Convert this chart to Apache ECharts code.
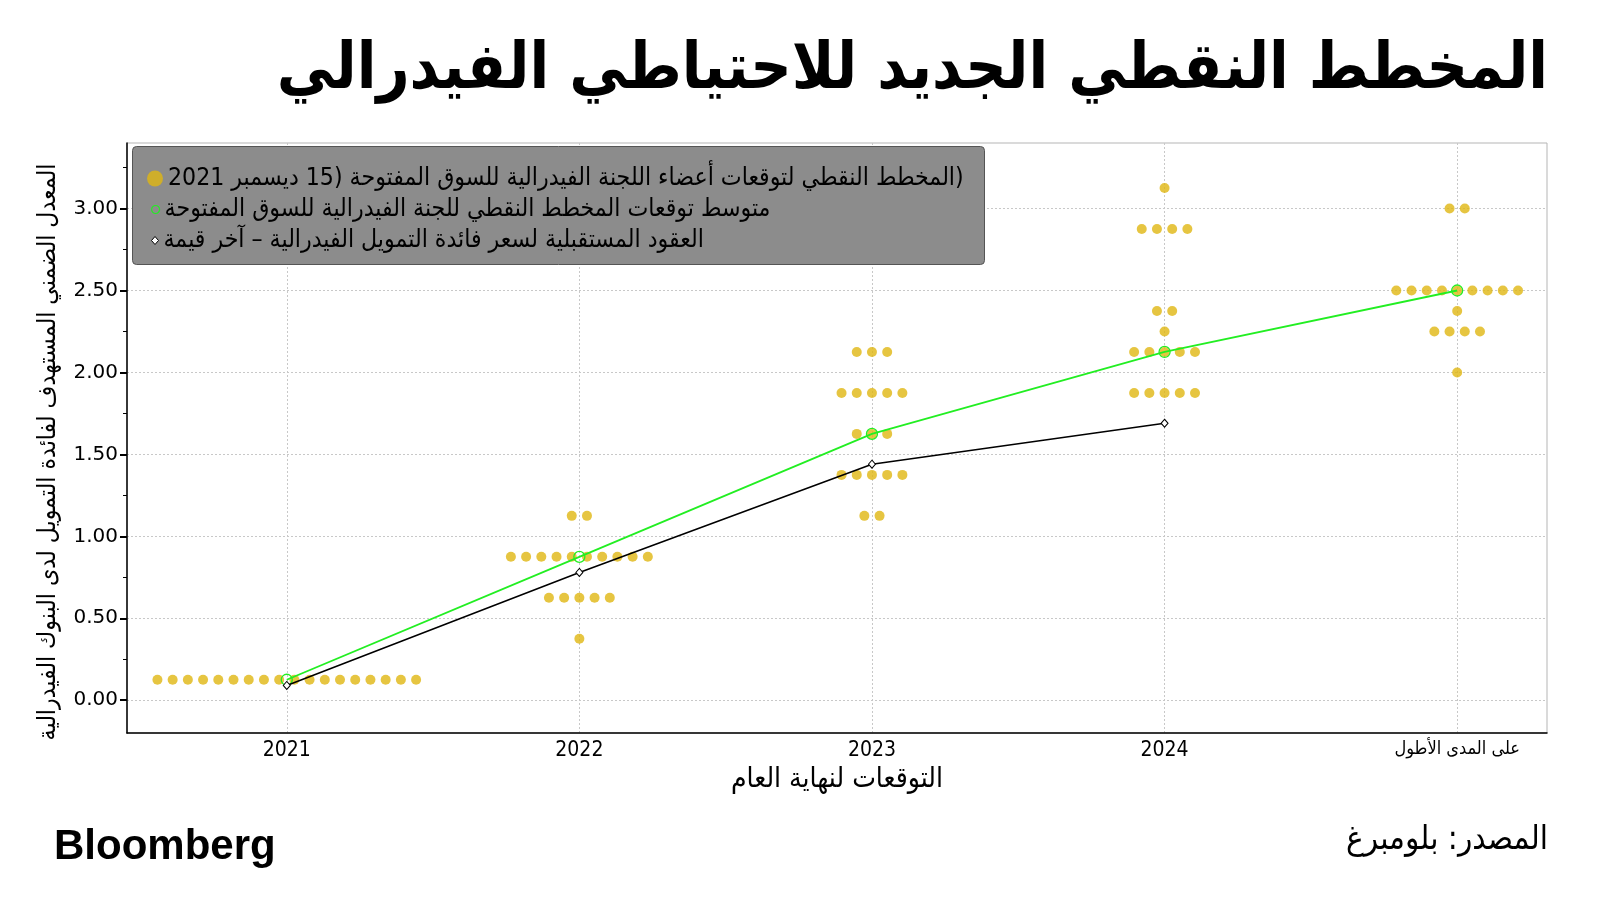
<!DOCTYPE html>
<html>
<head>
<meta charset="utf-8">
<script src="https://cdn.jsdelivr.net/npm/echarts@6/dist/echarts.min.js"></script>
<style>
html,body{margin:0;padding:0;background:#fff;}
#c{width:1600px;height:924px;}
</style>
</head>
<body>
<div id="c"></div>
<script>
// ---- data ----
const categories = ['2021', '2022', '2023', '2024', 'على المدى الأطول'];
// dot plot: [rate level, number of participants] per category
const dots2021 = [[0.125, 18]];
const dots2022 = [[1.125, 2], [0.875, 10], [0.625, 5], [0.375, 1]];
const dots2023 = [[2.125, 3], [1.875, 5], [1.625, 3], [1.375, 5], [1.125, 2]];
const dots2024 = [[3.125, 1], [2.875, 4], [2.375, 2], [2.25, 1], [2.125, 5], [1.875, 5]];
const dotsLonger = [[3.0, 2], [2.5, 9], [2.375, 1], [2.25, 4], [2.0, 1]];
const medianValues = [0.125, 0.875, 1.625, 2.125, 2.5];
const futuresValues = [0.09, 0.78, 1.44, 1.69];
const yTicks = [0, 0.5, 1, 1.5, 2, 2.5, 3];
const yMinorTicks = [0.25, 0.75, 1.25, 1.75, 2.25, 2.75, 3.25];

const seriesNames = [
  'المخطط النقطي لتوقعات أعضاء اللجنة الفيدرالية للسوق المفتوحة (15 ديسمبر 2021\u2066)\u2069',
  'متوسط توقعات المخطط النقطي للجنة الفيدرالية للسوق المفتوحة',
  'العقود المستقبلية لسعر فائدة التمويل الفيدرالية – آخر قيمة'
];
const titleText = 'المخطط النقطي الجديد للاحتياطي الفيدرالي';
const yAxisTitle = 'المعدل الضمني المستهدف لفائدة التمويل لدى البنوك الفيدرالية';
const xAxisTitle = 'التوقعات لنهاية العام';
const sourceText = 'المصدر: بلومبرغ';

// ---- build ----
const DOT_STEP = 0.052; // horizontal spread between dots (axis units)
const allDots = [dots2021, dots2022, dots2023, dots2024, dotsLonger];
const dotData = [];
allDots.forEach((levels, ci) => {
  levels.forEach(([rate, n]) => {
    for (let j = 0; j < n; j++) {
      dotData.push([ci + (j - (n - 1) / 2) * DOT_STEP, rate]);
    }
  });
});
const medianData = medianValues.map((v, i) => [i, v]);
const futuresData = futuresValues.map((v, i) => [i, v]);

const AR = "'DejaVu Sans Condensed', 'DejaVu Sans', sans-serif";
const GOLD = '#E0B712';
const GREEN = '#22EE22';
const LEG_FONT = {fontFamily: AR, fontSize: 24.6, lineHeight: 24, color: '#000'};

const chart = echarts.init(document.getElementById('c'), null, {renderer: 'canvas'});
chart.setOption({
  animation: false,
  backgroundColor: '#fff',
  title: [
    {text: titleText, right: 47, top: 34,
     textStyle: {fontFamily: AR, fontWeight: 'bold', fontSize: 64, color: '#000'}},
    {text: sourceText, right: 47, top: 819,
     textStyle: {fontFamily: AR, fontWeight: 'normal', fontSize: 33, color: '#000'}},
    {text: 'Bloomberg', left: 49, top: 821,
     textStyle: {fontFamily: "'Liberation Sans', Arial, sans-serif", fontWeight: 'bold', fontSize: 42, color: '#000'}}
  ],
  graphic: [{
    type: 'rect', left: 132, top: 146, z: 5,
    shape: {width: 852, height: 118, r: 4},
    style: {fill: '#8C8C8C', stroke: '#555', lineWidth: 1}
  }],
  legend: [
    {data: [{name: seriesNames[0], icon: 'circle', itemStyle: {color: GOLD}}],
     left: 147, top: 166, itemWidth: 16, itemHeight: 16, padding: 0, z: 10, textStyle: LEG_FONT},
    {data: [{name: seriesNames[1], icon: 'circle', itemStyle: {color: 'rgba(0,0,0,0)', borderColor: GREEN, borderWidth: 1.2}}],
     left: 151, top: 197, itemWidth: 8, itemHeight: 8, padding: 0, z: 10, textStyle: LEG_FONT},
    {data: [{name: seriesNames[2], icon: 'diamond', itemStyle: {color: '#fff', borderColor: '#000', borderWidth: 1}}],
     left: 151, top: 228, itemWidth: 7, itemHeight: 8, padding: 0, z: 10, textStyle: LEG_FONT}
  ],
  grid: {left: 127, right: 53, top: 143, bottom: 191, show: true,
         borderColor: '#b5b5b5', borderWidth: 1, backgroundColor: '#fff'},
  xAxis: {
    type: 'value', min: -0.546, max: 4.307,
    name: xAxisTitle, nameLocation: 'middle', nameGap: 32,
    nameTextStyle: {fontFamily: AR, fontSize: 28, color: '#000'},
    axisLine: {show: true, onZero: false, lineStyle: {color: '#000', width: 1.5}},
    axisTick: {show: false, customValues: [0, 1, 2, 3, 4]},
    axisLabel: {
      customValues: [0, 1, 2, 3, 4], margin: 7,
      fontFamily: AR, fontSize: 21, color: '#000',
      formatter: v => { const i = Math.round(v); return i === 4 ? '{s|' + categories[i] + '}' : categories[i]; },
      rich: {s: {fontFamily: AR, fontSize: 18, color: '#000'}}
    },
    splitLine: {show: true, lineStyle: {color: '#c8c8c8', type: [2, 2], width: 1}}
  },
  yAxis: [{
    type: 'value', min: -0.2, max: 3.4,
    name: yAxisTitle, nameLocation: 'middle', nameRotate: 90, nameGap: 66,
    nameTextStyle: {fontFamily: AR, fontSize: 24.6, color: '#000', padding: [0, 28, 0, 0]},
    axisLine: {show: true, onZero: false, lineStyle: {color: '#000', width: 1.5}},
    axisTick: {show: true, customValues: yTicks, length: 7, lineStyle: {color: '#000', width: 2}},
    minorTick: {show: false},
    axisLabel: {customValues: yTicks, fontFamily: "'DejaVu Sans', sans-serif", fontSize: 20, color: '#000', margin: 9,
      formatter: v => v.toFixed(2)},
    splitLine: {show: true, lineStyle: {color: '#c8c8c8', type: [2, 2], width: 1}}
  }, {
    type: 'value', min: -0.2, max: 3.4, position: 'left', offset: 0,
    axisLine: {show: false, onZero: false},
    axisTick: {show: true, customValues: yMinorTicks, length: 4, lineStyle: {color: '#000', width: 1}},
    axisLabel: {show: false},
    splitLine: {show: false}
  }],
  series: [
    {name: seriesNames[0], type: 'scatter', data: dotData, symbolSize: 10,
     itemStyle: {color: GOLD}, z: 2},
    {name: seriesNames[1], type: 'line', data: medianData, symbol: 'circle', symbolSize: 11,
     lineStyle: {color: GREEN, width: 1.8},
     itemStyle: {color: 'rgba(0,0,0,0)', borderColor: GREEN, borderWidth: 1.3}, z: 3},
    {name: seriesNames[2], type: 'line', data: futuresData, symbol: 'diamond', symbolSize: [7, 8],
     lineStyle: {color: '#000', width: 1.6},
     itemStyle: {color: '#fff', borderColor: '#000', borderWidth: 1}, z: 4}
  ]
});
</script>
</body>
</html>
